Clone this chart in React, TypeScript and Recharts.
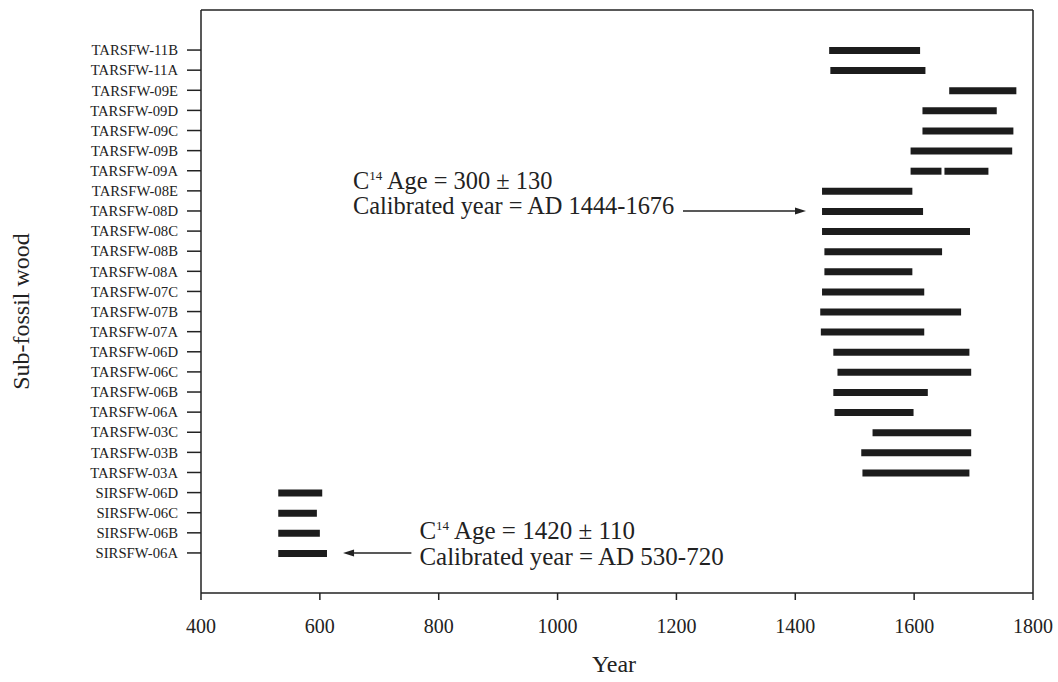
import { BarChart, Bar, XAxis, YAxis, ReferenceLine } from "recharts";

// samples, top to bottom
const samples = [
  "TARSFW-11B", "TARSFW-11A", "TARSFW-09E", "TARSFW-09D", "TARSFW-09C",
  "TARSFW-09B", "TARSFW-09A", "TARSFW-08E", "TARSFW-08D", "TARSFW-08C",
  "TARSFW-08B", "TARSFW-08A", "TARSFW-07C", "TARSFW-07B", "TARSFW-07A",
  "TARSFW-06D", "TARSFW-06C", "TARSFW-06B", "TARSFW-06A", "TARSFW-03C",
  "TARSFW-03B", "TARSFW-03A", "SIRSFW-06D", "SIRSFW-06C", "SIRSFW-06B",
  "SIRSFW-06A",
];

const startYears = [
  1457, 1459, 1659, 1614, 1614, 1594, 1594, 1445, 1445, 1445, 1449, 1449, 1445,
  1442, 1443, 1464, 1471, 1464, 1466, 1530, 1511, 1513, 530, 530, 530, 530,
];

const endYears = [
  1610, 1619, 1772, 1739, 1767, 1765, 1646, 1597, 1615, 1694, 1647, 1597, 1617,
  1679, 1617, 1693, 1696, 1623, 1599, 1696, 1696, 1693, 604, 595, 600, 612,
];

// 09A has a second calibrated range
const splitSample = "TARSFW-09A";
const splitRange = [1651, 1725];

const yearTicks = [400, 600, 800, 1000, 1200, 1400, 1600, 1800];

const recentNote = {
  age: " Age = 300 ± 130",
  calibrated: "Calibrated year = AD 1444-1676",
  row: "TARSFW-08D",
  from: 1211,
  to: 1418,
};

const oldNote = {
  age: " Age = 1420 ± 110",
  calibrated: "Calibrated year = AD 530-720",
  row: "SIRSFW-06A",
  from: 754,
  to: 639,
};

const data = samples.map((name, i) => ({
  name,
  range: [startYears[i], endYears[i]],
  extra: name === splitSample ? splitRange : undefined,
}));

const INK = "#222";
const FONT = "'Liberation Serif', 'Times New Roman', serif";

function arrowShape(
  note: typeof recentNote,
  textDx: number,
  line1Dy: number,
  line2Dy: number,
  fontSize: number
) {
  return (p: any) => {
    const { x1, y1, x2, y2 } = p;
    const dir = x2 > x1 ? 1 : -1;
    const head = 11;
    const tx = x1 + textDx;
    return (
      <g>
        <line x1={x1} y1={y1} x2={x2 - dir * head} y2={y2} stroke={INK} strokeWidth={1.5} />
        <polygon
          points={`${x2},${y2} ${x2 - dir * head},${y2 - 3.5} ${x2 - dir * head},${y2 + 3.5}`}
          fill={INK}
        />
        <text x={tx} y={y1 + line1Dy} fontSize={fontSize} fill={INK} fontFamily={FONT} style={{ whiteSpace: "pre" }}>
          <tspan>C</tspan>
          <tspan dy={-9} fontSize={13}>14</tspan>
          <tspan dy={9}>{note.age}</tspan>
        </text>
        <text x={tx} y={y1 + line2Dy} fontSize={fontSize} fill={INK} fontFamily={FONT}>
          {note.calibrated}
        </text>
      </g>
    );
  };
}

function YTitle({ viewBox }: any) {
  const cx = viewBox.x + 21;
  const cy = viewBox.y + viewBox.height / 2 + 10;
  return (
    <text
      x={cx}
      y={cy}
      transform={`rotate(-90 ${cx} ${cy})`}
      textAnchor="middle"
      dominantBaseline="central"
      fontSize={24}
      fill={INK}
      fontFamily={FONT}
    >
      Sub-fossil wood
    </text>
  );
}

function XTitle({ viewBox }: any) {
  return (
    <text
      x={viewBox.x + viewBox.width / 2 - 3}
      y={viewBox.y + 79}
      textAnchor="middle"
      fontSize={24}
      fill={INK}
      fontFamily={FONT}
    >
      Year
    </text>
  );
}

export default function App() {
  return (
    <div style={{ position: "absolute", left: 0, top: 0, width: 1058, height: 682, background: "#fff" }}>
      <BarChart
        width={1058}
        height={682}
        layout="vertical"
        data={data}
        margin={{ top: 9, right: 24, bottom: 0, left: 0 }}
        style={{ fontFamily: FONT }}
      >
        <XAxis
          xAxisId="year"
          type="number"
          domain={[400, 1800]}
          ticks={yearTicks}
          allowDataOverflow
          height={89}
          tickSize={7}
          tickMargin={19}
          tick={{ fontSize: 20, fill: INK }}
          stroke={INK}
          strokeWidth={1.5}
          label={{ content: <XTitle /> }}
        />
        <XAxis
          xAxisId="top"
          orientation="top"
          type="number"
          domain={[400, 1800]}
          height={1}
          tick={false}
          tickLine={false}
          stroke={INK}
          strokeWidth={1.5}
        />
        <YAxis
          yAxisId="sample"
          type="category"
          dataKey="name"
          width={201}
          interval={0}
          padding={{ top: 30, bottom: 30 }}
          tickSize={14}
          tickMargin={9}
          tick={{ fontSize: 14.7, fill: INK }}
          stroke={INK}
          strokeWidth={1.5}
          label={{ content: <YTitle /> }}
        />
        <YAxis
          yAxisId="right"
          orientation="right"
          type="category"
          dataKey="name"
          width={1}
          interval={0}
          padding={{ top: 30, bottom: 30 }}
          tick={false}
          tickLine={false}
          stroke={INK}
          strokeWidth={1.5}
        />
        <Bar
          xAxisId="year"
          yAxisId="sample"
          dataKey="range"
          fill="#1c1c1c"
          barSize={7}
          isAnimationActive={false}
        />
        <Bar
          xAxisId="year"
          yAxisId="right"
          dataKey="extra"
          fill="#1c1c1c"
          barSize={7}
          isAnimationActive={false}
        />
        <ReferenceLine
          xAxisId="year"
          yAxisId="sample"
          segment={[
            { x: recentNote.from, y: recentNote.row },
            { x: recentNote.to, y: recentNote.row },
          ]}
          shape={arrowShape(recentNote, -330, -21.5, 3.5, 24.4)}
        />
        <ReferenceLine
          xAxisId="year"
          yAxisId="sample"
          segment={[
            { x: oldNote.from, y: oldNote.row },
            { x: oldNote.to, y: oldNote.row },
          ]}
          shape={arrowShape(oldNote, 8, -13.5, 12, 25)}
        />
      </BarChart>
    </div>
  );
}
